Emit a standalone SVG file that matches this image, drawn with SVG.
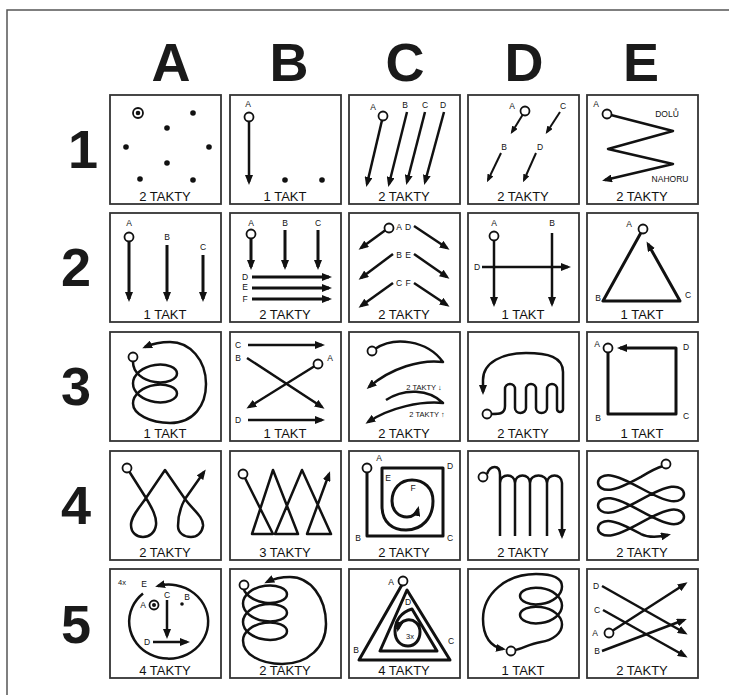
<svg xmlns="http://www.w3.org/2000/svg" width="729" height="695" viewBox="0 0 729 695">
<defs>
<marker id="ah" viewBox="0 0 10 8" refX="7" refY="4" markerWidth="10" markerHeight="8" markerUnits="userSpaceOnUse" orient="auto"><path d="M0,0L10,4L0,8z" fill="#111"/></marker>
<marker id="as" viewBox="0 0 10 8" refX="7" refY="4" markerWidth="8" markerHeight="6.4" markerUnits="userSpaceOnUse" orient="auto"><path d="M0,0L10,4L0,8z" fill="#111"/></marker>
<style>
.cell{fill:#fff;stroke:#333;stroke-width:1.8}
.ln{fill:none;stroke:#111;stroke-width:2.5;stroke-linejoin:round}
.th{stroke-width:3}
.tn{stroke-width:2}
.ar{marker-end:url(#ah)}
.as{marker-end:url(#as)}
.o{fill:#fff;stroke:#111;stroke-width:1.8}
.dot{fill:#111}
.lab{font-family:"Liberation Sans",Arial,sans-serif;font-size:13px;text-anchor:middle;fill:#111}
.s{font-family:"Liberation Sans",Arial,sans-serif;font-size:8.5px;text-anchor:middle;fill:#111}
.hd{font-family:"Liberation Sans",Arial,sans-serif;font-weight:bold;font-size:54px;text-anchor:middle;fill:#1a1a1a}
</style>
</defs>
<rect width="729" height="695" fill="#fff"/>
<rect x="7" y="10" width="740" height="700" fill="none" stroke="#555" stroke-width="1.5"/>
<g id="headers">
<text class="hd" x="171" y="81">A</text>
<text class="hd" x="289" y="81">B</text>
<text class="hd" x="405" y="81">C</text>
<text class="hd" x="524" y="81">D</text>
<text class="hd" x="641" y="81">E</text>
<text class="hd" x="83" y="168">1</text>
<text class="hd" x="76" y="286">2</text>
<text class="hd" x="76" y="405">3</text>
<text class="hd" x="76" y="524">4</text>
<text class="hd" x="76" y="643">5</text>
</g>

<g id="A1" transform="translate(110,95)">
<rect class="cell" width="111" height="109"/>
<circle class="o" cx="28" cy="18" r="5"/><circle class="dot" cx="28" cy="18" r="2.3"/>
<circle class="dot" cx="83" cy="18" r="2.8"/><circle class="dot" cx="57" cy="33" r="2.8"/>
<circle class="dot" cx="16" cy="52" r="2.8"/><circle class="dot" cx="99" cy="52" r="2.8"/>
<circle class="dot" cx="57" cy="68" r="2.8"/><circle class="dot" cx="30" cy="84" r="2.8"/>
<circle class="dot" cx="83" cy="85" r="2.8"/>
<text class="lab" x="55" y="106">2 TAKTY</text>
</g>

<g id="B1" transform="translate(230,95)">
<rect class="cell" width="111" height="109"/>
<text class="s" x="18" y="12">A</text>
<path class="ln ar" d="M19,22 L19,87"/>
<circle class="o" cx="19" cy="22" r="4.5"/>
<circle class="dot" cx="55" cy="85" r="2.8"/><circle class="dot" cx="92" cy="85" r="2.8"/>
<text class="lab" x="55" y="106">1 TAKT</text>
</g>

<g id="C1" transform="translate(349,95)">
<rect class="cell" width="111" height="109"/>
<text class="s" x="24" y="15">A</text><text class="s" x="56" y="13">B</text>
<text class="s" x="76" y="13">C</text><text class="s" x="94" y="13">D</text>
<path class="ln ar" d="M34,21 L18,89"/>
<path class="ln ar" d="M58,17 L40,89"/>
<path class="ln ar" d="M76,17 L58,87"/>
<path class="ln ar" d="M95,17 L76,87"/>
<circle class="o" cx="34" cy="21" r="4.5"/>
<text class="lab" x="55" y="106">2 TAKTY</text>
</g>

<g id="D1" transform="translate(468,95)">
<rect class="cell" width="111" height="109"/>
<text class="s" x="44" y="14">A</text><text class="s" x="95" y="14">C</text>
<text class="s" x="36" y="55">B</text><text class="s" x="72" y="55">D</text>
<path class="ln tn as" d="M57,16 L44,37"/>
<path class="ln tn as" d="M33,58 L20,85"/>
<path class="ln tn as" d="M92,17 L79,37"/>
<path class="ln tn as" d="M68,58 L56,85"/>
<circle class="o" cx="57" cy="16" r="4.5"/>
<text class="lab" x="55" y="106">2 TAKTY</text>
</g>

<g id="E1" transform="translate(587,95)">
<rect class="cell" width="111" height="109"/>
<text class="s" x="9" y="12">A</text>
<text class="s" x="80" y="22">DOLŮ</text>
<text class="s" x="83" y="87">NAHORU</text>
<path class="ln ar" d="M20,19 L86,36 L21,54 L86,69 L18,85"/>
<circle class="o" cx="20" cy="19" r="4.5"/>
<text class="lab" x="55" y="106">2 TAKTY</text>
</g>

<g id="A2" transform="translate(110,213)">
<rect class="cell" width="111" height="109"/>
<text class="s" x="19" y="13">A</text><text class="s" x="57" y="27">B</text><text class="s" x="93" y="37">C</text>
<path class="ln th ar" d="M19,24 L19,86"/>
<path class="ln th ar" d="M57,32 L57,86"/>
<path class="ln th ar" d="M93,42 L93,86"/>
<circle class="o" cx="19" cy="24" r="4.5"/>
<text class="lab" x="55" y="106">1 TAKT</text>
</g>

<g id="B2" transform="translate(230,213)">
<rect class="cell" width="111" height="109"/>
<text class="s" x="21" y="13">A</text><text class="s" x="55" y="13">B</text><text class="s" x="88" y="13">C</text>
<text class="s" x="15" y="67">D</text><text class="s" x="15" y="77">E</text><text class="s" x="15" y="89">F</text>
<path class="ln th ar" d="M21,21 L21,54"/>
<path class="ln th ar" d="M55,17 L55,54"/>
<path class="ln th ar" d="M88,17 L88,54"/>
<path class="ln th ar" d="M22,64 L99,64"/>
<path class="ln th ar" d="M22,75 L99,75"/>
<path class="ln th ar" d="M22,86 L99,86"/>
<circle class="o" cx="21" cy="21" r="4.5"/>
<text class="lab" x="55" y="106">2 TAKTY</text>
</g>

<g id="C2" transform="translate(349,213)">
<rect class="cell" width="111" height="109"/>
<text class="s" x="50" y="17">A</text><text class="s" x="59" y="17">D</text>
<text class="s" x="50" y="45">B</text><text class="s" x="59" y="45">E</text>
<text class="s" x="50" y="73">C</text><text class="s" x="59" y="73">F</text>
<path class="ln ar" d="M38,16 L12,35"/>
<path class="ln ar" d="M44,41 L12,65"/>
<path class="ln ar" d="M44,70 L12,93"/>
<path class="ln ar" d="M65,13 L98,35"/>
<path class="ln ar" d="M65,41 L98,64"/>
<path class="ln ar" d="M65,70 L98,92"/>
<circle class="o" cx="40" cy="15" r="4.5"/>
<text class="lab" x="55" y="106">2 TAKTY</text>
</g>

<g id="D2" transform="translate(468,213)">
<rect class="cell" width="111" height="109"/>
<text class="s" x="26" y="13">A</text><text class="s" x="84" y="13">B</text><text class="s" x="9" y="57">D</text>
<path class="ln ar" d="M26,23 L26,91"/>
<path class="ln ar" d="M84,20 L84,91"/>
<path class="ln ar" d="M14,54 L100,54"/>
<circle class="o" cx="26" cy="23" r="4.5"/>
<text class="lab" x="55" y="106">1 TAKT</text>
</g>

<g id="E2" transform="translate(587,213)">
<rect class="cell" width="111" height="109"/>
<text class="s" x="42" y="14">A</text><text class="s" x="11" y="88">B</text><text class="s" x="101" y="85">C</text>
<path class="ln th ar" d="M56,16 L16,88 L93,88 L61,31"/>
<circle class="o" cx="56" cy="16" r="4.5"/>
<text class="lab" x="55" y="106">1 TAKT</text>
</g>

<g id="A3" transform="translate(110,332)">
<rect class="cell" width="111" height="109"/>
<path class="ln ar" d="M23,30 C23,40.67 32.9,48.25 45,50 C57.1,51.75 67,47.18 67,41.5 C67,35.82 57.1,31.25 45,33 C32.9,34.75 23,42.33 23,51.5 C23,60.67 32.9,68.25 45,70 C57.1,71.75 67,67.18 67,61.5 C67,55.82 57.1,51.25 45,53 C32.9,54.75 23,62.33 23,71.5 C23,82 40,91 60,91 C84,91 96,73 96,52 C96,28 80,10 60,10 C50,10 42,12 35,15"/>
<circle class="o" cx="23" cy="25" r="4.5"/>
<text class="lab" x="55" y="106">1 TAKT</text>
</g>

<g id="B3" transform="translate(230,332)">
<rect class="cell" width="111" height="109"/>
<text class="s" x="8" y="16">C</text><text class="s" x="8" y="29">B</text><text class="s" x="100" y="29">A</text><text class="s" x="8" y="91">D</text>
<path class="ln ar" d="M18,13 L92,13"/>
<path class="ln ar" d="M17,26 L92,75"/>
<path class="ln ar" d="M88,32 L19,75"/>
<path class="ln ar" d="M18,88 L92,88"/>
<circle class="o" cx="88" cy="32" r="4.5"/>
<text class="lab" x="55" y="106">1 TAKT</text>
</g>

<g id="C3" transform="translate(349,332)">
<rect class="cell" width="111" height="109"/>
<path class="ln ar" d="M26,17 C45,4 78,8 94,30 C72,27 42,36 20,55"/>
<path class="ln ar" d="M37,68 C55,56 80,57 94,71 C72,69 42,75 19,90"/>
<circle class="o" cx="23" cy="19" r="4.5"/>
<text class="s" x="75" y="58" style="font-size:7.5px">2 TAKTY ↓</text>
<text class="s" x="78" y="85" style="font-size:7.5px">2 TAKTY ↑</text>
<text class="lab" x="55" y="106">2 TAKTY</text>
</g>

<g id="D3" transform="translate(468,332)">
<rect class="cell" width="111" height="109"/>
<path class="ln ar" d="M24,82 C31,82 37,82 37,74 L37,57 A5,5 0 0 1 47,57 L47,76 A5.5,5 0 0 0 58,76 L58,57 A5,5 0 0 1 68,57 L68,76 A5.5,5 0 0 0 79,76 L79,57 A5,5 0 0 1 89,57 L89,77 A3,3 0 0 0 95,77 L95,40 C95,25 80,21 58,21 C35,21 15,30 15,48 L15,60"/>
<circle class="o" cx="19" cy="82" r="4.5"/>
<text class="lab" x="55" y="106">2 TAKTY</text>
</g>

<g id="E3" transform="translate(587,332)">
<rect class="cell" width="111" height="109"/>
<text class="s" x="10" y="15">A</text><text class="s" x="99" y="18">D</text><text class="s" x="11" y="89">B</text><text class="s" x="99" y="87">C</text>
<path class="ln th ar" d="M21,16 L21,82 L89,82 L89,16 L33,16"/>
<circle class="o" cx="21" cy="16" r="4.5"/>
<text class="lab" x="55" y="106">1 TAKT</text>
</g>

<g id="A4" transform="translate(110,451)">
<rect class="cell" width="111" height="109"/>
<path class="ln ar" d="M17,17 L36,47 C42,57 47,66 46,74 C45,82 39,86 33,86 C27,86 21,82 21,74 C21,65 30,56 36,47 L55,19 L75,48 C82,58 94,66 93,75 C92,82 87,86 81,86 C74,86 68,82 68,75 C68,66 70,57 75,48 L94,21"/>
<circle class="o" cx="17" cy="17" r="4.5"/>
<text class="lab" x="55" y="106">2 TAKTY</text>
</g>

<g id="B4" transform="translate(230,451)">
<rect class="cell" width="111" height="109"/>
<path class="ln ar" d="M13,23 L43,83 L22,83 L43,19 L68,83 L45,83 L72,19 L101,83 L77,83 L99,23"/>
<circle class="o" cx="13" cy="23" r="4.5"/>
<text class="lab" x="55" y="106">3 TAKTY</text>
</g>

<g id="C4" transform="translate(349,451)">
<rect class="cell" width="111" height="109"/>
<text class="s" x="30" y="10">A</text><text class="s" x="9" y="90">B</text><text class="s" x="101" y="90">C</text>
<text class="s" x="101" y="18">D</text><text class="s" x="39" y="30">E</text><text class="s" x="64" y="40">F</text>
<path class="ln th ar" d="M18,17 L18,85 L94,85 L94,17 L33,17 L33,55 C33,72 44,79 57,79 C73,79 84,67 84,50 C84,37 75,29 63,29 C51,29 43,38 43,50 C43,60 50,66 58,66 C64,66 68,62 69,58"/>
<circle class="o" cx="18" cy="17" r="4.5"/>
<text class="lab" x="55" y="106">2 TAKTY</text>
</g>

<g id="D4" transform="translate(468,451)">
<rect class="cell" width="111" height="109"/>
<path class="ln ar" d="M19,23 C22,14 32,13 32,24 L32,85 M32,32 C32,22 47,22 47,32 L47,85 M47,32 C47,22 62,22 62,32 L62,85 M62,32 C62,22 79,22 79,32 L79,85 M79,32 C79,22 94,22 94,32 L94,85"/>
<circle class="o" cx="15" cy="26" r="4.5"/>
<text class="lab" x="55" y="106">2 TAKTY</text>
</g>

<g id="E4" transform="translate(587,451)">
<rect class="cell" width="111" height="109"/>
<path class="ln ar" d="M76,15 C69,17 62,21 54,25.84 C42.74,32.03 31.56,37.75 23.6,38.7 C15.64,39.65 11,35.83 11,31.55 C11,27.27 15.64,23.46 23.6,24.41 C31.56,25.36 42.74,31.08 54,37.27 C65.26,43.46 76.44,49.18 84.4,50.13 C92.36,51.08 97,47.27 97,42.99 C97,38.71 92.36,34.9 84.4,35.85 C76.44,36.8 65.26,42.52 54,48.71 C42.74,54.9 31.56,60.62 23.6,61.57 C15.64,62.52 11,58.71 11,54.43 C11,50.15 15.64,46.34 23.6,47.29 C31.56,48.24 42.74,53.95 54,60.14 C65.26,66.33 76.44,72.05 84.4,73 C92.36,73.95 97,70.14 97,65.86 C97,61.58 92.36,57.77 84.4,58.72 C76.44,59.67 65.26,65.39 54,71.58 C42.74,77.77 31.56,83.49 23.6,84.44 C15.64,85.39 11,81.58 11,77.3 C11,73.02 15.64,69.21 23.6,70.16 C31.56,71.11 42.74,76.83 54,83.02 C62,87 72,86 81,84"/>
<circle class="o" cx="79" cy="13" r="4.5"/>
<text class="lab" x="55" y="106">2 TAKTY</text>
</g>

<g id="A5" transform="translate(110,569)">
<rect class="cell" width="111" height="109"/>
<text class="s" x="12" y="16" style="font-size:7.5px">4x</text>
<text class="s" x="34" y="18">E</text>
<path class="ln ar" d="M33,24.5 A39.5,37 0 1 0 48,17"/>
<text class="s" x="33" y="39">A</text>
<circle class="o" cx="44" cy="36" r="4.5"/><circle class="dot" cx="44" cy="36" r="2"/>
<text class="s" x="57" y="29">C</text>
<path class="ln ar" d="M57,31 L57,67"/>
<text class="s" x="77" y="31">B</text><circle class="dot" cx="72" cy="35" r="1.8"/>
<text class="s" x="37" y="76">D</text>
<path class="ln ar" d="M43,73 L77,73"/>
<text class="lab" x="55" y="106">4 TAKTY</text>
</g>

<g id="B5" transform="translate(230,569)">
<rect class="cell" width="111" height="109"/>
<path class="ln ar" d="M13,16 C13,24.77 22.9,32 35,33.62 C47.1,35.24 57,30.77 57,25.24 C57,19.71 47.1,15.24 35,16.86 C22.9,18.48 13,25.7 13,34.47 C13,43.24 22.9,50.47 35,52.09 C47.1,53.71 57,49.24 57,43.71 C57,38.18 47.1,33.71 35,35.33 C22.9,36.95 13,44.17 13,52.94 C13,61.71 22.9,68.94 35,70.56 C47.1,72.18 57,67.71 57,62.18 C57,56.65 47.1,52.18 35,53.8 C22.9,55.42 13,62.64 13,71.41 C13,85 30,95 52,95 C78,95 96,78 96,55 C96,28 80,8 60,8 C50,8 43,10 37,13"/>
<circle class="o" cx="14" cy="16" r="4.5"/>
<text class="lab" x="55" y="106">2 TAKTY</text>
</g>

<g id="C5" transform="translate(349,569)">
<rect class="cell" width="111" height="109"/>
<text class="s" x="42" y="16">A</text><text class="s" x="7" y="84">B</text><text class="s" x="102" y="75">C</text>
<text class="s" x="59" y="36">D</text>
<path class="ln th ar" d="M54,14 L10,91 L101,91 L58,21 L31,82 L88,82 L63,40 C52,43 46,52 46,62 C46,72 52,77 59,77 C66,77 71,71 71,63 C71,55 65,50 58,51 C53,52 50,55 49,60"/>
<circle class="o" cx="54" cy="12" r="4.5"/>
<text class="s" x="61" y="70" style="font-size:7.5px">3x</text>
<text class="lab" x="55" y="106">4 TAKTY</text>
</g>

<g id="D5" transform="translate(468,569)">
<rect class="cell" width="111" height="109"/>
<path class="ln ar" d="M47,81 C54,80 61.45,74.67 73,73.01 C84.55,71.35 94,64.18 94,55.51 C94,46.84 84.55,39.68 73,38.02 C61.45,36.36 52,40.67 52,46.02 C52,51.37 61.45,55.69 73,54.03 C84.55,52.37 94,45.21 94,36.54 C94,27.87 84.55,20.7 73,19.04 C61.45,17.38 52,21.7 52,27.05 C52,32.4 61.45,36.71 73,35.05 C84.55,33.39 94,26.23 94,17.56 C94,8 84,5 68,5 C38,5 15,25 15,50 C15,68 23,78 35,80"/>
<circle class="o" cx="43" cy="82" r="4.5"/>
<text class="lab" x="55" y="106">1 TAKT</text>
</g>

<g id="E5" transform="translate(587,569)">
<rect class="cell" width="111" height="109"/>
<text class="s" x="9" y="20">D</text><text class="s" x="10" y="44">C</text><text class="s" x="8" y="67">A</text><text class="s" x="10" y="85">B</text>
<path class="ln ar" d="M15,17 L98,64"/>
<path class="ln ar" d="M16,41 L98,87"/>
<path class="ln ar" d="M22,64 L98,15"/>
<path class="ln ar" d="M15,82 L97,51"/>
<circle class="o" cx="22" cy="64" r="4.5"/>
<text class="lab" x="55" y="106">2 TAKTY</text>
</g>
</svg>
